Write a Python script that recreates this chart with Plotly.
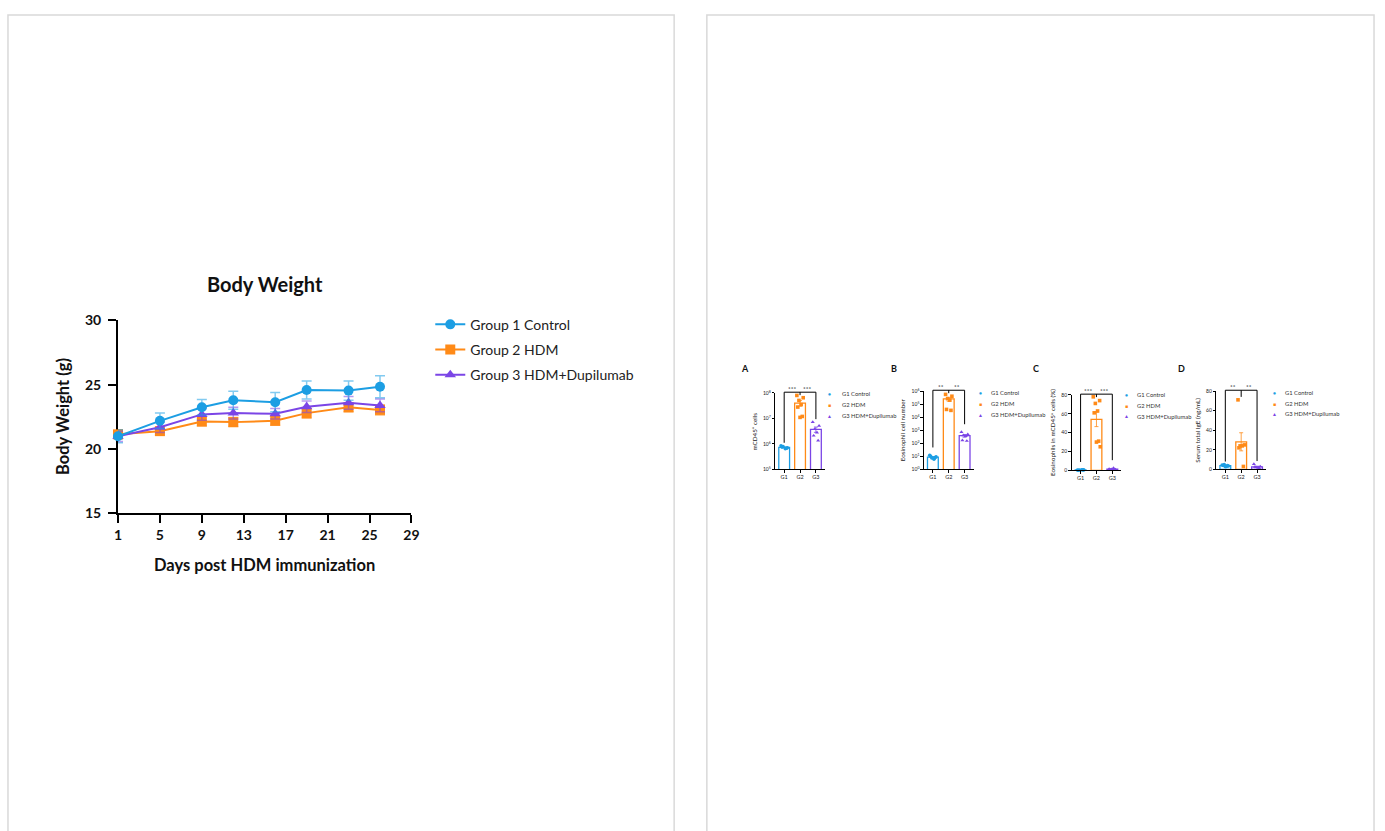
import numpy as np
import plotly.graph_objects as go

# ---------------- data ----------------
days = [1, 5, 9, 12, 16, 19, 23, 26]
bw_g1 = [21.0, 22.2, 23.25, 23.8, 23.65, 24.6, 24.55, 24.85]
bw_g1_sem = [0.5, 0.6, 0.6, 0.7, 0.75, 0.7, 0.75, 0.85]
bw_g2 = [21.15, 21.4, 22.15, 22.1, 22.2, 22.8, 23.25, 23.05]
bw_g2_sem = [0.35, 0.3, 0.35, 0.35, 0.35, 0.4, 0.35, 0.4]
bw_g3 = [21.0, 21.7, 22.7, 22.8, 22.75, 23.3, 23.6, 23.4]
bw_g3_sem = [0.4, 0.4, 0.45, 0.45, 0.4, 0.45, 0.5, 0.5]
group_names = ["Group 1 Control", "Group 2 HDM", "Group 3 HDM+Dupilumab"]
short_names = ["G1 Control", "G2 HDM", "G3 HDM+Dupilumab"]
categories = ["G1", "G2", "G3"]
day_ticks = [1, 5, 9, 13, 17, 21, 25, 29]
bw_ticks = [15, 20, 25, 30]

cd45_g1 = [8.5e5, 7.0e5, 7.8e5, 6.5e5, 7.5e5, 6.8e5]
cd45_g2 = [8.0e7, 6.5e7, 5.1e7, 3.5e7, 2.8e7, 1.2e7, 1.1e7]
cd45_g3 = [7.2e6, 5.1e6, 3.8e6, 2.8e6, 2.1e6, 1.35e6]

eos_g1 = [12, 9, 7.5, 6, 10, 8]
eos_g2 = [5.5e5, 4.0e5, 2.6e5, 2.0e5, 3.9e4, 3.3e4]
eos_g3 = [720, 480, 400, 350, 170, 150]

eospct_g1 = [0.3, 0.5, 0.4, 0.6, 0.2, 0.5]
eospct_g2 = [78, 74, 71, 63, 61, 31, 30, 25]
eospct_g3 = [1.5, 0.8, 1.2, 2.5, 0.6, 1.0]

ige_g1 = [4.5, 3.5, 5.0, 3.0, 4.0, 3.8, 2.7]
ige_g2 = [71, 25, 24, 24, 22, 3]
ige_g3 = [5.5, 3.0, 2.0, 1.5, 2.5, 1.0]

# ---------------- style ----------------
W, H = 1385, 831
FONT = "Lato"
COLORS = ["#1C9EE3", "#FF8A17", "#7B45E6"]
ERR_COLORS = ["rgba(28,158,227,0.55)", "rgba(255,138,23,0.55)", "rgba(123,69,230,0.55)"]
SYMBOLS = ["circle", "square", "triangle-up"]
GLYPHS = ["\u25CF", "\u25A0", "\u25B2"]


def fx(p):
    return p / W


def fy(p):
    return 1 - p / H


fig = go.Figure()

# ---------------- main body-weight chart ----------------
bw_series = [bw_g1, bw_g2, bw_g3]
bw_sems = [bw_g1_sem, bw_g2_sem, bw_g3_sem]
for i in [1, 2, 0]:
    fig.add_trace(go.Scatter(
        x=days, y=bw_series[i], mode="lines+markers", name=group_names[i],
        line=dict(color=COLORS[i], width=2),
        marker=dict(symbol=SYMBOLS[i], size=10, color=COLORS[i]),
        error_y=dict(type="data", array=bw_sems[i], color=ERR_COLORS[i], thickness=1.5, width=5),
        legendgroup=f"g{i}", legendrank=i + 1, cliponaxis=False,
        xaxis="x", yaxis="y", hoverinfo="skip",
    ))

layout = dict(
    width=W, height=H, margin=dict(l=0, r=0, t=0, b=0, pad=0),
    paper_bgcolor="white", plot_bgcolor="rgba(0,0,0,0)",
    font=dict(family=FONT, color="#222"),
    barmode="overlay",
    showlegend=True,
    legend=dict(x=fx(430), y=fy(306), xanchor="left", yanchor="top",
                font=dict(size=14, family=FONT, color="#222"),
                traceorder="grouped", tracegroupgap=4, bgcolor="rgba(0,0,0,0)"),
    xaxis=dict(domain=[fx(115), fx(411)], range=[1, 29], tickvals=day_ticks,
               showline=True, linecolor="black", linewidth=2, ticks="outside", ticklen=8,
               tickwidth=2, tickcolor="black", showgrid=False, zeroline=False,
               tickfont=dict(size=14, family=FONT, color="#111", weight="bold"),
               anchor="y", layer="below traces", fixedrange=True),
    yaxis=dict(domain=[fy(515), fy(318)], range=[15, 30], tickvals=bw_ticks,
               showline=True, linecolor="black", linewidth=2, ticks="outside", ticklen=8,
               tickwidth=2, tickcolor="black", showgrid=False, zeroline=False,
               tickfont=dict(size=14, family=FONT, color="#111", weight="bold"),
               ticklabelstandoff=4,
               anchor="x", layer="below traces", fixedrange=True),
)

annotations = [
    dict(text="<b>Body Weight</b>", x=fx(263), y=fy(281), xref="paper", yref="paper",
         showarrow=False, font=dict(size=20, family=FONT, color="#111"), xanchor="center", yanchor="middle"),
    dict(text="<b>Days post HDM immunization</b>", x=fx(263), y=fy(568), xref="paper", yref="paper",
         showarrow=False, font=dict(size=16.5, family=FONT, color="#111"), xanchor="center", yanchor="middle"),
    dict(text="<b>Body Weight (g)</b>", x=fx(60), y=fy(416), xref="paper", yref="paper", textangle=-90,
         showarrow=False, font=dict(size=16.5, family=FONT, color="#111"), xanchor="center", yanchor="middle"),
]
shapes = [
    dict(type="rect", xref="paper", yref="paper", x0=fx(4), x1=fx(676), y0=fy(6), y1=fy(845),
         line=dict(color="#d9d9d9", width=1.5), fillcolor="rgba(0,0,0,0)", layer="below"),
    dict(type="rect", xref="paper", yref="paper", x0=fx(709), x1=fx(1382), y0=fy(6), y1=fy(845),
         line=dict(color="#d9d9d9", width=1.5), fillcolor="rgba(0,0,0,0)", layer="below"),
]

# ---------------- small bar panels ----------------
panels = [
    dict(letter="A", ylab="mCD45<sup>+</sup> cells", log=True, yrange=(5, 8), yt=[5, 6, 7, 8],
         data=[cd45_g1, cd45_g2, cd45_g3], stars="***", ax=(778, 828), ay=(392, 470),
         letter_at=(747, 367), ytitle_at=(757, 431), leg=(833, 843, [393, 404, 415]), gap=3),
    dict(letter="B", ylab="Eosinophil cell number", log=True, yrange=(0, 6), yt=[0, 1, 2, 3, 4, 5, 6],
         data=[eos_g1, eos_g2, eos_g3], stars="**", ax=(928, 978), ay=(390, 470),
         letter_at=(898, 367), ytitle_at=(906, 430), leg=(985, 994, [392, 403, 414]), gap=8),
    dict(letter="C", ylab="Eosinophils in mCD45<sup>+</sup> cells (%)", log=False, yrange=(0, 80), yt=[0, 20, 40, 60, 80],
         data=[eospct_g1, eospct_g2, eospct_g3], stars="***", ax=(1077, 1127), ay=(394, 471),
         letter_at=(1041, 367), ytitle_at=(1058, 432), leg=(1132, 1141, [394, 405, 416]), gap=8),
    dict(letter="D", ylab="Serum total IgE (ng/mL)", log=False, yrange=(0, 80), yt=[0, 20, 40, 60, 80],
         data=[ige_g1, ige_g2, ige_g3], stars="**", ax=(1223, 1273), ay=(390, 470),
         letter_at=(1188, 367), ytitle_at=(1204, 430), leg=(1282, 1290, [392, 403, 413]), gap=3),
]

JITTER = [-0.2, 0.2, -0.07, 0.07, -0.14, 0.14, 0.0, 0.24]
XR = [-0.5625, 2.5625]

for pi, sp in enumerate(panels):
    k = pi + 2
    xa, ya = f"x{k}", f"y{k}"
    lo, hi = sp["yrange"]
    top, bot = sp["ay"]
    left, right = sp["ax"]

    def v2p(v, lo=lo, hi=hi, top=top, bot=bot, lg=sp["log"]):
        t = np.log10(v) if lg else v
        return bot - (t - lo) / (hi - lo) * (bot - top)

    def c2p(c, left=left, right=right):
        return left + (c - XR[0]) / (XR[1] - XR[0]) * (right - left)

    for g in range(3):
        vals = np.array(sp["data"][g], dtype=float)
        mean = vals.mean()
        sem = vals.std(ddof=1) / np.sqrt(len(vals))
        fig.add_trace(go.Bar(
            x=[g], y=[mean], width=0.68, xaxis=xa, yaxis=ya, showlegend=False,
            marker=dict(color="white", line=dict(color=COLORS[g], width=1.3)),
            error_y=dict(type="data", array=[sem], color=COLORS[g], thickness=0.8, width=2),
            hoverinfo="skip",
        ))
        fig.add_trace(go.Scatter(
            x=[g + JITTER[j] for j in range(len(vals))], y=vals, mode="markers",
            marker=dict(symbol=SYMBOLS[g], size=3.6, color=COLORS[g]),
            xaxis=xa, yaxis=ya, showlegend=False, hoverinfo="skip", cliponaxis=False,
        ))

    # significance brackets (placed from the data maxima)
    top_px = top - 0.8
    bottoms = []
    for g in range(3):
        bp = v2p(max(sp["data"][g])) - sp["gap"]
        bottoms.append(max(bp, top_px + 3))
    br = dict(type="line", xref="paper", yref="paper", line=dict(color="black", width=1), layer="above")
    shapes.append(dict(br, x0=fx(c2p(0)), x1=fx(c2p(2)), y0=fy(top_px), y1=fy(top_px)))
    for g in range(3):
        shapes.append(dict(br, x0=fx(c2p(g)), x1=fx(c2p(g)), y0=fy(top_px), y1=fy(bottoms[g])))
    for c in (0.5, 1.5):
        annotations.append(dict(text=sp["stars"], x=fx(c2p(c)), y=fy(top_px - 3.5), xref="paper", yref="paper",
                                showarrow=False, xanchor="center", yanchor="middle",
                                font=dict(size=6.5, family=FONT, color="#111")))

    if sp["log"]:
        yaxis_extra = dict(type="log", range=[lo, hi], tickvals=[10 ** e for e in sp["yt"]],
                           ticktext=[f"10<sup>{e}</sup>" for e in sp["yt"]])
    else:
        yaxis_extra = dict(type="linear", range=[lo, hi], tickvals=sp["yt"],
                           ticktext=[str(v) for v in sp["yt"]])

    layout[f"xaxis{k}"] = dict(
        domain=[fx(left), fx(right)], range=XR, tickvals=[0, 1, 2], ticktext=categories,
        showline=True, linecolor="black", linewidth=1, ticks="outside", ticklen=2.5, tickwidth=0.8,
        tickcolor="black", showgrid=False, zeroline=False, anchor=ya, fixedrange=True,
        tickfont=dict(size=5.5, family=FONT, color="#222"))
    layout[f"yaxis{k}"] = dict(
        domain=[fy(bot), fy(top)], showline=True, linecolor="black", linewidth=1, ticks="outside",
        ticklen=2.5, tickwidth=0.8, tickcolor="black", showgrid=False, zeroline=False,
        anchor=xa, fixedrange=True, tickfont=dict(size=5, family=FONT, color="#222"), **yaxis_extra)

    annotations.append(dict(text=f"<b>{sp['letter']}</b>", x=fx(sp["letter_at"][0]), y=fy(sp["letter_at"][1]),
                            xref="paper", yref="paper", showarrow=False, xanchor="center", yanchor="middle",
                            font=dict(size=9, family=FONT, color="#111")))
    annotations.append(dict(text=sp["ylab"], x=fx(sp["ytitle_at"][0]), y=fy(sp["ytitle_at"][1]),
                            xref="paper", yref="paper", showarrow=False, textangle=-90,
                            xanchor="center", yanchor="middle",
                            font=dict(size=6.3, family=FONT, color="#222")))
    mx, tx, ys = sp["leg"]
    for g in range(3):
        annotations.append(dict(text=GLYPHS[g], x=fx(mx), y=fy(ys[g]), xref="paper", yref="paper",
                                showarrow=False, xanchor="center", yanchor="middle",
                                font=dict(size=5, color=COLORS[g])))
        annotations.append(dict(text=short_names[g], x=fx(tx), y=fy(ys[g]), xref="paper", yref="paper",
                                showarrow=False, xanchor="left", yanchor="middle",
                                font=dict(size=5.8, family=FONT, color="#333")))

layout["annotations"] = annotations
layout["shapes"] = shapes

fig.update_layout(**layout)
fig.write_html("out.html", config={"displayModeBar": False},
               post_script="document.body.style.margin='0';document.body.style.overflow='hidden';")
